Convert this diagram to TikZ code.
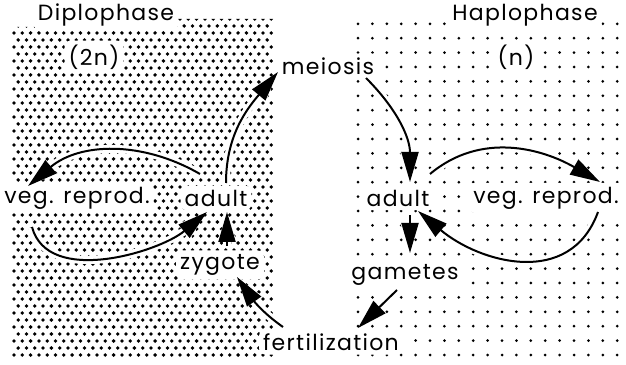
\documentclass[tikz,border=0pt]{standalone}
\usepackage{fontspec}
\setmainfont{Poppins}[LetterSpace=6]
\usetikzlibrary{arrows.meta,backgrounds}

\tikzset{
  lbl/.style={fill=white,inner sep=2pt,rounded corners=3pt,font=\fontsize{11}{13}\selectfont},
  >={Triangle[length=15pt,width=8.5pt]},
  cyc/.style={line width=1pt,->,preaction={draw=white,line width=4pt}},
}

\begin{document}
\begin{tikzpicture}[x=0.5pt,y=0.5pt]
  \useasboundingbox (0,0) rectangle (626,364);
  \begin{scope}[on background layer]
    \begin{scope}
      \clip (11,6) rectangle (273,337) (172,337) rectangle (273,345);
      \foreach \j in {0,...,48}{
        \pgfmathsetmacro\off{mod(\j,2)*4.15}
        \foreach \i in {0,...,31}
          \fill ({14+\off+8.3*\i},{9+7*\j}) circle[radius=0.95pt];
      }
    \end{scope}
    \foreach \j in {0,...,23}
      \foreach \i in {0,...,18}
        \fill ({358+14.4*\i},{9+14.4*\j}) circle[radius=0.75pt];
  \end{scope}

  \node[lbl] (diplo) at (106,349) {Diplophase};
  \node[lbl] (twon) at (94,307) {(2n)};
  \node[lbl] (haplo) at (525,349) {Haplophase};
  \node[lbl] (nn) at (516,307) {(n)};
  \node[lbl] (meiosis) at (328,298) {meiosis};
  \node[lbl] (vegL) at (77,166) {veg. reprod.};
  \node[lbl] (adultL) at (216,166) {adult};
  \node[lbl] (zygote) at (220,99) {zygote};
  \node[lbl] (fert) at (331,22) {fertilization};
  \node[lbl] (gametes) at (405,89) {gametes};
  \node[lbl] (adultR) at (398,166) {adult};
  \node[lbl] (vegR) at (546,166) {veg. reprod.};

  \draw[cyc] ([shift={(10,15)}]adultL.center) to[out=90,in=230] ([shift={(-50,-6)}]meiosis.center);
  \draw[cyc] ([shift={(38,-12)}]meiosis.center) to[out=-45,in=90] ([shift={(12,16)}]adultR.center);
  \draw[cyc] ([shift={(32,24)}]adultR.center) to[out=40,in=150] ([shift={(54,16)}]vegR.center);
  \draw[cyc] ([shift={(52,-14)}]vegR.center) to[out=-110,in=-40,looseness=1.15] ([shift={(20,-13)}]adultR.center);
  \draw[cyc] ([shift={(12,-17)}]adultR.center) -- ([shift={(5,22)}]gametes.center);
  \draw[cyc] ([shift={(-8,-15)}]gametes.center) -- ([shift={(27,14)}]fert.center);
  \draw[cyc] ([shift={(-48,15)}]fert.center) to[out=145,in=-55] ([shift={(17,-12)}]zygote.center);
  \draw[cyc] ([shift={(7,19)}]zygote.center) -- ([shift={(11,-14)}]adultL.center);
  \draw[cyc] ([shift={(-45,-29)}]vegL.center) to[out=-75,in=-140,looseness=0.9] ([shift={(-9,-14)}]adultL.center);
  \draw[cyc] ([shift={(-16,24)}]adultL.center) to[out=150,in=40] ([shift={(-49,12)}]vegL.center);
\end{tikzpicture}
\end{document}
